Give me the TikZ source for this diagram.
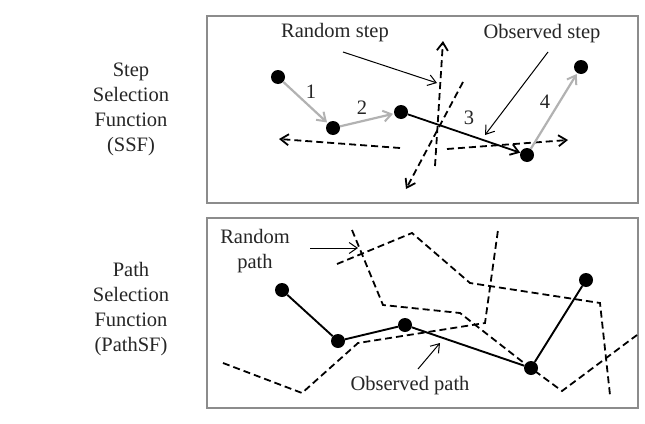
\documentclass[tikz,border=0pt]{standalone}
\usepackage{fontspec}
\setmainfont{Liberation Serif}
\usetikzlibrary{arrows.meta}
\begin{document}
\begin{tikzpicture}[x=1pt,y=-1pt,
  lbl/.style={font=\fontsize{20.5}{25}\selectfont, inner sep=0pt, align=center, text=black!85},
  frame/.style={draw=black!45, line width=1.3pt},
  dot/.style={circle, fill=black, inner sep=0pt, minimum size=14pt},
  graystep/.style={draw=black!30, line width=2.2pt, -{Straight Barb[length=8pt,width=11pt,line width=2pt]}, shorten >=1pt},
  obsstep/.style={draw=black, line width=1.8pt, -{Straight Barb[length=8pt,width=11pt,line width=1.8pt]}},
  randstep/.style={draw=black, line width=1.8pt, dash pattern=on 7pt off 4pt, -{Straight Barb[length=8pt,width=11pt,line width=1.8pt]}},
  pointer/.style={draw=black, line width=1pt, -{Straight Barb[length=8pt,width=11pt,line width=1pt]}},
  obspath/.style={draw=black, line width=1.9pt},
  randpath/.style={draw=black, line width=1.8pt, dash pattern=on 7pt off 4pt, line join=miter}
]
\useasboundingbox (0,0) rectangle (645,423);
\fill[white] (0,0) rectangle (645,423);

% frames
\draw[frame] (207,16) rectangle (638,203);
\draw[frame] (207,218) rectangle (638,408);

% left labels
\node[lbl] (ssf) at (131,109) {Step\\Selection\\Function\\(SSF)};
\node[lbl] (psf) at (131,309) {Path\\Selection\\Function\\(PathSF)};

% ---------- SSF ----------
\node[dot] (a) at (278,77) {};
\node[dot] (b) at (333,128) {};
\node[dot] (c) at (401,112) {};
\node[dot] (d) at (527,155) {};
\node[dot] (e) at (581,67) {};

% random steps (dashed)
\coordinate (rl0) at (400,148); \coordinate (rl1) at (279,139);
\coordinate (rr0) at (447,149); \coordinate (rr1) at (568,140);
\coordinate (rv0) at (435,166); \coordinate (rv1) at (443,41);
\coordinate (rd0) at (463,82);  \coordinate (rd1) at (406,189);
\draw[randstep] (rl0) -- (rl1);
\draw[randstep] (rr0) -- (rr1);
\draw[randstep] (rv0) -- (rv1);
\draw[randstep] (rd0) -- (rd1);

% observed steps
\draw[graystep] (a) -- (b);
\draw[graystep] (b) -- (c);
\draw[obsstep] (c) -- (d);
\draw[graystep] (d) -- (e);

\node[lbl] (n1) at (311,92) {1};
\node[lbl] (n2) at (362,108) {2};
\node[lbl] (n3) at (469,118) {3};
\node[lbl] (n4) at (545,102) {4};

% pointer labels
\node[lbl] (rs) at (335,33) {Random step};
\node[lbl] (os) at (542,34) {Observed step};
\coordinate (rsp0) at (343,52); \coordinate (rsp1) at (437,83);
\coordinate (osp0) at (548,52); \coordinate (osp1) at (485,135);
\draw[pointer] (rsp0) -- (rsp1);
\draw[pointer] (osp0) -- (osp1);

% ---------- PathSF ----------
\coordinate (p1a) at (352,230); \coordinate (p1b) at (383,305);
\coordinate (p1c) at (460,313); \coordinate (p1d) at (524,363);
\coordinate (p1e) at (562,391); \coordinate (p1f) at (637,335);
\draw[randpath] (p1a) -- (p1b) -- (p1c) -- (p1d) -- (p1e) -- (p1f);

\coordinate (p2a) at (337,264); \coordinate (p2b) at (412,233);
\coordinate (p2c) at (470,283); \coordinate (p2d) at (600,303);
\coordinate (p2e) at (610,395);
\draw[randpath] (p2a) -- (p2b) -- (p2c) -- (p2d) -- (p2e);

\coordinate (p3a) at (223,363); \coordinate (p3b) at (302,393);
\coordinate (p3c) at (358,343); \coordinate (p3d) at (485,323);
\coordinate (p3e) at (498,230);
\draw[randpath] (p3a) -- (p3b) -- (p3c) -- (p3d) -- (p3e);

\node[dot] (q1) at (282,290) {};
\node[dot] (q2) at (338,341) {};
\node[dot] (q3) at (405,325) {};
\node[dot] (q4) at (531,368) {};
\node[dot] (q5) at (586,280) {};
\draw[obspath] (q1) -- (q2) -- (q3) -- (q4) -- (q5);

\node[lbl] (rp) at (255,251) {Random\\path};
\node[lbl] (op) at (410,386) {Observed path};
\coordinate (rpp0) at (310,248); \coordinate (rpp1) at (358,248);
\coordinate (opp0) at (418,369); \coordinate (opp1) at (440,343);
\draw[pointer] (rpp0) -- (rpp1);
\draw[pointer] (opp0) -- (opp1);
\end{tikzpicture}
\end{document}
